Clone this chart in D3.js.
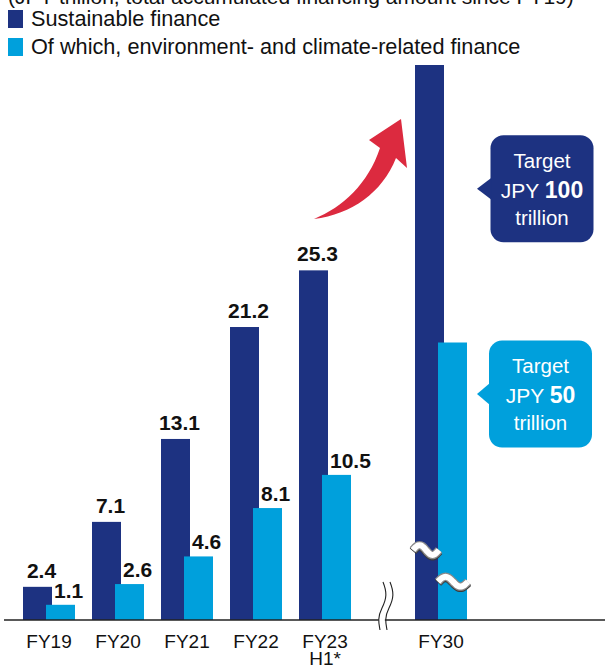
<!DOCTYPE html>
<html><head><meta charset="utf-8">
<script src="https://cdn.jsdelivr.net/npm/d3@7"></script>
<style>html,body{margin:0;padding:0;background:#fff;}svg{display:block;}</style>
</head><body>
<script>
const titleText = "(JPY trillion, total accumulated financing amount since FY19)";
const legendLabels = ["Sustainable finance", "Of which, environment- and climate-related finance"];
const categories = ["FY19", "FY20", "FY21", "FY22", "FY23"];
const subLabels = ["", "", "", "", "H1*"];
const sustainable = [2.4, 7.1, 13.1, 21.2, 25.3];
const climate = [1.1, 2.6, 4.6, 8.1, 10.5];
const targetCategory = ["FY30"];
const targetSustainable = [100];
const targetClimate = [50];
const calloutTexts = [["Target", "JPY ", "100", "trillion"], ["Target", "JPY ", "50", "trillion"]];

const W = 605, H = 668;
const NAVY = "#1d3281", CYAN = "#00a0dc", RED = "#dc2a3f", INK = "#111";
const FONT = "'Liberation Sans', Arial, Helvetica, sans-serif";

const svg = d3.select("body").append("svg").attr("width", W).attr("height", H)
  .style("font-family", FONT);

const base = 620;
const y = d3.scaleLinear().domain([0, 40]).range([base, 67.2]);
const yT = d3.scaleLinear().domain([0, 100]).range([base, 65]);
const x = d3.scaleBand().domain(categories).range([14.5, 359.5]).paddingInner(17 / 69).paddingOuter(17 / 138);
const xT = d3.scaleBand().domain(targetCategory).range([406.5, 475.5]).paddingInner(17 / 69).paddingOuter(17 / 138);
const bw = x.bandwidth();
const barW = bw * 29 / 52, lightOff = bw * 23 / 52;

// Title (cut off at top, as in the reference)
svg.append("text").attr("x", 8).attr("y", 4).attr("font-size", 21).attr("fill", INK).text(titleText);

// Legend
const legColors = [NAVY, CYAN];
legendLabels.forEach((t, i) => {
  const g = svg.append("g").attr("transform", `translate(8,${10 + i * 28})`);
  g.append("rect").attr("width", 15).attr("height", 18).attr("fill", legColors[i]);
  g.append("text").attr("x", 23).attr("y", 16).attr("font-size", 21.7).attr("fill", INK).text(t);
});

// Bars
const data = categories.map((c, i) => ({ c, s: sustainable[i], e: climate[i], sub: subLabels[i] }));
svg.selectAll(".bs").data(data).join("rect").attr("class", "bs")
  .attr("x", d => x(d.c)).attr("width", barW)
  .attr("y", d => y(d.s)).attr("height", d => base - y(d.s)).attr("fill", NAVY);
svg.selectAll(".be").data(data).join("rect").attr("class", "be")
  .attr("x", d => x(d.c) + lightOff).attr("width", barW)
  .attr("y", d => y(d.e)).attr("height", d => base - y(d.e)).attr("fill", CYAN);

// Value labels
svg.selectAll(".ls").data(data).join("text").attr("class", "ls")
  .attr("x", d => x(d.c) + barW / 2 + 4).attr("y", d => y(d.s) - 9)
  .attr("text-anchor", "middle").attr("font-size", 21).attr("font-weight", "bold").attr("fill", INK)
  .text(d => d3.format(".1f")(d.s));
svg.selectAll(".le").data(data).join("text").attr("class", "le")
  .attr("x", d => x(d.c) + lightOff + 8).attr("y", d => y(d.e) - 7)
  .attr("text-anchor", "start").attr("font-size", 21).attr("font-weight", "bold").attr("fill", INK)
  .text(d => d3.format(".1f")(d.e));

// Target bars
const tData = targetCategory.map((c, i) => ({ c, s: targetSustainable[i], e: targetClimate[i] }));
svg.selectAll(".ts").data(tData).join("rect").attr("class", "ts")
  .attr("x", d => xT(d.c)).attr("width", barW)
  .attr("y", d => yT(d.s)).attr("height", d => base - yT(d.s)).attr("fill", NAVY);
svg.selectAll(".te").data(tData).join("rect").attr("class", "te")
  .attr("x", d => xT(d.c) + lightOff).attr("width", barW)
  .attr("y", d => yT(d.e)).attr("height", d => base - yT(d.e)).attr("fill", CYAN);

// Bar break waves
function wave(x0, x1, yc, amp) {
  const pts = d3.range(0, 1.0001, 0.05).map(t => [x0 + (x1 - x0) * t, yc - amp * Math.sin(2 * Math.PI * t)]);
  return d3.line().curve(d3.curveBasis)(pts);
}
function drawBreak(x0, x1, yc) {
  const p = wave(x0, x1, yc, 5);
  svg.append("path").attr("d", p).attr("transform", "translate(0,1.2)").attr("fill", "none").attr("stroke", "#3a3a3a").attr("stroke-width", 8.5);
  svg.append("path").attr("d", p).attr("fill", "none").attr("stroke", "#8a8a8a").attr("stroke-width", 8.5);
  svg.append("path").attr("d", p).attr("fill", "none").attr("stroke", "#fff").attr("stroke-width", 6);
}
tData.forEach(d => {
  drawBreak(xT(d.c) - 2, xT(d.c) + lightOff + 1, yT(12.6));
  drawBreak(xT(d.c) + lightOff, xT(d.c) + lightOff + barW + 1, yT(6.9));
});

// Axis line
svg.append("line").attr("x1", 4).attr("x2", W).attr("y1", base).attr("y2", base)
  .attr("stroke", "#222").attr("stroke-width", 1.3);

// Axis break squiggles
const axBreakX = (x.range()[1] + xT.range()[0]) / 2 - 2;
function squig(dx) {
  const x0 = axBreakX + dx;
  return `M${x0 + 2},${base - 38} C${x0 + 6},${base - 28} ${x0 + 6},${base - 22} ${x0 + 1},${base - 12} S${x0 - 2},${base + 4} ${x0 - 1},${base + 10}`;
}
svg.append("path").attr("d", squig(0) + ` L${axBreakX + 6},${base + 10} ` +
  `C${axBreakX + 3},${base + 4} ${axBreakX + 3},${base - 4} ${axBreakX + 7},${base - 12} C${axBreakX + 12},${base - 22} ${axBreakX + 12},${base - 28} ${axBreakX + 8},${base - 38} Z`)
  .attr("fill", "#fff").attr("stroke", "none");
[0, 7].forEach(dx => {
  svg.append("path").attr("d", squig(dx)).attr("fill", "none").attr("stroke", "#222").attr("stroke-width", 1.1);
});

// X axis labels
svg.selectAll(".xl").data(data).join("text").attr("class", "xl")
  .attr("x", d => x(d.c) + bw / 2).attr("y", 648).attr("text-anchor", "middle")
  .attr("font-size", 19).attr("fill", INK).text(d => d.c);
svg.selectAll(".xs").data(data.filter(d => d.sub)).join("text").attr("class", "xs")
  .attr("x", d => x(d.c) + bw / 2).attr("y", 665).attr("text-anchor", "middle")
  .attr("font-size", 19).attr("fill", INK).text(d => d.sub);
svg.selectAll(".xt").data(tData).join("text").attr("class", "xt")
  .attr("x", d => xT(d.c) + bw / 2).attr("y", 648).attr("text-anchor", "middle")
  .attr("font-size", 19).attr("fill", INK).text(d => d.c);

// Callouts
function callout(cx, cy, color, lines) {
  const w = 103, h = 107, r = 13, tipX = 477;
  const x0 = cx - w / 2, y0 = cy - h / 2;
  const g = svg.append("g");
  g.append("rect").attr("x", x0).attr("y", y0).attr("width", w).attr("height", h).attr("rx", r).attr("fill", color);
  g.append("path").attr("d", `M${x0 + 1},${cy - 11} L${tipX},${cy} L${x0 + 1},${cy + 11} Z`).attr("fill", color);
  g.append("text").attr("x", cx).attr("y", cy - 21).attr("text-anchor", "middle").attr("font-size", 20.5).attr("fill", "#fff").text(lines[0]);
  const t2 = g.append("text").attr("x", cx).attr("y", cy + 9).attr("text-anchor", "middle").attr("fill", "#fff");
  t2.append("tspan").attr("font-size", 21).text(lines[1]);
  t2.append("tspan").attr("font-size", 23).attr("font-weight", "bold").text(lines[2]);
  g.append("text").attr("x", cx).attr("y", cy + 36).attr("text-anchor", "middle").attr("font-size", 20.5).attr("fill", "#fff").text(lines[3]);
}
callout(542, yT(77.7), NAVY, calloutTexts[0]);
callout(540.5, yT(40.7), CYAN, calloutTexts[1]);

// Red growth arrow
svg.append("path")
  .attr("d", "M314,219 C343,207 368,184 380,148 L369,140 L401,119 L407,168 L396,158 C382,193 352,214 314,219 Z")
  .attr("fill", RED);
</script>
</body></html>
